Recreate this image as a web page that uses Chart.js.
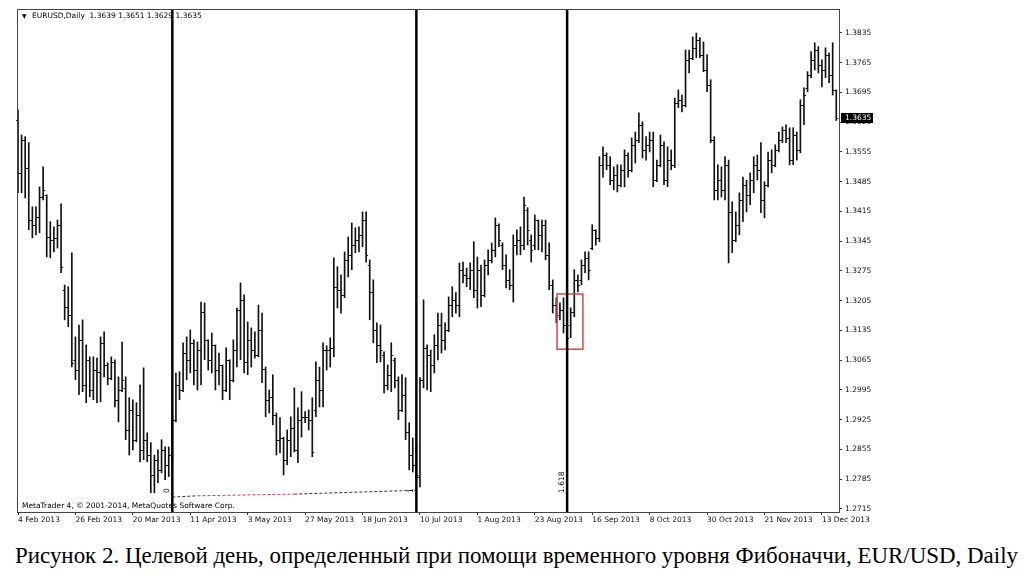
<!DOCTYPE html>
<html>
<head>
<meta charset="utf-8">
<title>EURUSD Daily</title>
<script src="https://cdn.jsdelivr.net/npm/chart.js@4.4.1/dist/chart.umd.min.js"></script>
<style>
  html, body { margin: 0; padding: 0; background: #fff; }
  #wrap { position: relative; width: 1034px; height: 583px; overflow: hidden; }
  #chart { position: absolute; left: 0; top: 0; }
  #caption {
    position: absolute; left: 15px; top: 542px;
    font-family: "Liberation Serif", serif; font-size: 24px; line-height: 27px;
    color: #000; white-space: nowrap; transform-origin: 0 0;
  }
</style>
</head>
<body>
<div id="wrap">
  <canvas id="chart" width="1034" height="530"></canvas>
  <div id="caption">Рисунок 2. Целевой день, определенный при помощи временного уровня Фибоначчи, EUR/USD, Daily</div>
</div>
<script>
// daily EURUSD bars, one entry per trading day from 4 Feb 2013
const opens = [
  1.3631,1.3506,1.3584,1.3518,1.3395,1.3384,1.3402,1.3449,1.3454,1.3355,
  1.3348,1.3353,1.3384,1.3231,1.3191,1.3172,1.3066,1.3042,1.3113,1.3007,
  1.3066,1.2995,1.3042,1.3038,1.3106,1.3054,1.3024,1.3061,1.2972,1.2995,
  1.3000,1.2901,1.2948,1.2878,1.2937,1.2854,1.2878,1.2842,1.2795,1.2831,
  1.2807,1.2854,1.2819,1.2842,1.2925,1.3007,1.2995,1.3082,1.3066,1.3106,
  1.3042,1.3089,1.3179,1.3113,1.3066,1.3101,1.3042,1.3054,1.2995,1.3066,
  1.3019,1.3089,1.3184,1.3207,1.3061,1.3113,1.3089,1.3078,1.3136,1.3045,
  1.2972,1.2979,1.2937,1.2878,1.2882,1.2831,1.2878,1.2906,1.2854,1.2925,
  1.2932,1.2932,1.2925,1.2948,1.3019,1.2995,1.3089,1.3089,1.3094,1.3238,
  1.3231,1.3219,1.3301,1.3313,1.3336,1.3348,1.3360,1.3395,1.3289,1.3226,
  1.3136,1.3101,1.3078,1.3007,1.3031,1.3066,1.3019,1.2948,1.2984,1.2897,
  1.2842,1.2819,1.2791,1.3019,1.3094,1.3078,1.3054,1.3101,1.3148,1.3113,
  1.3136,1.3195,1.3207,1.3195,1.3278,1.3266,1.3259,1.3278,1.3231,1.3278,
  1.3219,1.3289,1.3301,1.3325,1.3384,1.3336,1.3289,1.3254,1.3242,1.3336,
  1.3348,1.3336,1.3419,1.3348,1.3336,1.3395,1.3360,1.3384,1.3313,1.3242,
  1.3195,1.3172,1.3184,1.3148,1.3148,1.3179,1.3254,1.3254,1.3289,1.3306,
  1.3329,1.3372,1.3353,1.3525,1.3548,1.3525,1.3489,1.3501,1.3478,1.3513,
  1.3548,1.3513,1.3572,1.3584,1.3619,1.3560,1.3572,1.3584,1.3489,1.3525,
  1.3572,1.3489,1.3536,1.3525,1.3670,1.3678,1.3666,1.3772,1.3777,1.3800,
  1.3819,1.3784,1.3748,1.3713,1.3584,1.3466,1.3489,1.3466,1.3525,1.3414,
  1.3348,1.3384,1.3442,1.3478,1.3454,1.3489,1.3525,1.3513,1.3442,1.3478,
  1.3536,1.3525,1.3560,1.3584,1.3607,1.3588,1.3536,1.3595,1.3560,1.3666,
  1.3706,1.3737,1.3772,1.3795,1.3760,1.3748,1.3784,1.3737,1.3701
];
const highs = [
  1.3654,1.3595,1.3591,1.3577,1.3426,1.3426,1.3473,1.3520,1.3454,1.3391,
  1.3379,1.3395,1.3433,1.3242,1.3238,1.3318,1.3120,1.3148,1.3160,1.3101,
  1.3073,1.3073,1.3070,1.3120,1.3132,1.3059,1.3073,1.3066,1.3026,1.3108,
  1.3026,1.2977,1.2972,1.2965,1.3007,1.3047,1.2894,1.2871,1.2842,1.2854,
  1.2878,1.2861,1.2861,1.2937,1.3035,1.3038,1.3106,1.3120,1.3136,1.3113,
  1.3108,1.3202,1.3200,1.3113,1.3129,1.3101,1.3082,1.3054,1.3094,1.3066,
  1.3113,1.3188,1.3247,1.3219,1.3155,1.3141,1.3132,1.3195,1.3176,1.3049,
  1.2995,1.3031,1.2941,1.2930,1.2884,1.2901,1.2932,1.3000,1.2953,1.2991,
  1.2944,1.2948,1.2977,1.3061,1.3049,1.3106,1.3099,1.3118,1.3306,1.3285,
  1.3266,1.3320,1.3355,1.3388,1.3377,1.3379,1.3414,1.3414,1.3301,1.3254,
  1.3153,1.3148,1.3085,1.3054,1.3106,1.3070,1.3026,1.3031,1.3024,1.2918,
  1.2882,1.2866,1.3024,1.3207,1.3101,1.3089,1.3125,1.3176,1.3176,1.3153,
  1.3214,1.3238,1.3224,1.3294,1.3296,1.3282,1.3294,1.3344,1.3308,1.3289,
  1.3301,1.3325,1.3341,1.3400,1.3386,1.3341,1.3313,1.3278,1.3360,1.3372,
  1.3379,1.3449,1.3424,1.3360,1.3407,1.3395,1.3395,1.3395,1.3341,1.3254,
  1.3212,1.3200,1.3212,1.3191,1.3188,1.3278,1.3266,1.3301,1.3320,1.3320,
  1.3384,1.3372,1.3544,1.3567,1.3553,1.3544,1.3520,1.3525,1.3525,1.3560,
  1.3553,1.3588,1.3602,1.3647,1.3626,1.3591,1.3602,1.3602,1.3536,1.3595,
  1.3579,1.3567,1.3560,1.3682,1.3701,1.3689,1.3795,1.3795,1.3826,1.3835,
  1.3824,1.3814,1.3784,1.3725,1.3591,1.3525,1.3520,1.3544,1.3536,1.3438,
  1.3414,1.3459,1.3496,1.3489,1.3506,1.3544,1.3548,1.3577,1.3485,1.3555,
  1.3560,1.3572,1.3602,1.3614,1.3619,1.3612,1.3612,1.3602,1.3678,1.3706,
  1.3744,1.3791,1.3812,1.3803,1.3772,1.3800,1.3788,1.3812,1.3701
];
const lows = [
  1.3459,1.3459,1.3447,1.3372,1.3353,1.3360,1.3365,1.3442,1.3308,1.3306,
  1.3320,1.3329,1.3271,1.3160,1.3144,1.3049,1.3019,1.2984,1.2991,1.2965,
  1.2979,1.2972,1.2965,1.2967,1.3026,1.3007,1.3019,1.2955,1.2920,1.2991,
  1.2878,1.2842,1.2854,1.2873,1.2826,1.2831,1.2826,1.2753,1.2753,1.2777,
  1.2800,1.2784,1.2791,1.2826,1.2920,1.2972,1.2991,1.3019,1.3035,1.3007,
  1.2995,1.3007,1.3066,1.3042,1.3035,1.2995,1.3007,1.2972,1.2991,1.2972,
  1.3014,1.3049,1.3066,1.3035,1.3031,1.3049,1.3070,1.3073,1.3012,1.2932,
  1.2941,1.2913,1.2842,1.2847,1.2795,1.2819,1.2838,1.2849,1.2824,1.2884,
  1.2918,1.2901,1.2838,1.2932,1.2955,1.2955,1.3042,1.3049,1.3073,1.3188,
  1.3176,1.3212,1.3261,1.3278,1.3318,1.3320,1.3332,1.3296,1.3160,1.3106,
  1.3059,1.3061,1.2988,1.2995,1.2991,1.3000,1.2925,1.2944,1.2878,1.2807,
  1.2802,1.2788,1.2767,1.3000,1.2995,1.2991,1.3035,1.3066,1.3082,1.3089,
  1.3132,1.3167,1.3176,1.3167,1.3247,1.3238,1.3231,1.3212,1.3188,1.3191,
  1.3214,1.3266,1.3294,1.3308,1.3332,1.3278,1.3235,1.3231,1.3202,1.3313,
  1.3313,1.3325,1.3336,1.3296,1.3325,1.3325,1.3320,1.3301,1.3231,1.3176,
  1.3153,1.3160,1.3129,1.3106,1.3118,1.3167,1.3226,1.3242,1.3271,1.3254,
  1.3325,1.3336,1.3344,1.3496,1.3513,1.3478,1.3466,1.3461,1.3473,1.3473,
  1.3496,1.3508,1.3529,1.3577,1.3541,1.3536,1.3555,1.3473,1.3485,1.3520,
  1.3478,1.3473,1.3513,1.3518,1.3659,1.3649,1.3661,1.3741,1.3772,1.3777,
  1.3777,1.3744,1.3697,1.3577,1.3442,1.3442,1.3449,1.3442,1.3294,1.3318,
  1.3344,1.3360,1.3391,1.3414,1.3431,1.3459,1.3489,1.3412,1.3400,1.3473,
  1.3506,1.3520,1.3555,1.3577,1.3577,1.3525,1.3525,1.3536,1.3553,1.3619,
  1.3697,1.3730,1.3748,1.3741,1.3708,1.3730,1.3718,1.3689,1.3629
];
const closes = [
  1.3506,1.3584,1.3518,1.3395,1.3384,1.3402,1.3449,1.3466,1.3355,1.3348,
  1.3353,1.3384,1.3285,1.3191,1.3172,1.3059,1.3042,1.3113,1.3007,1.3066,
  1.2995,1.3042,1.3038,1.3106,1.3054,1.3024,1.3061,1.2972,1.2995,1.3019,
  1.2901,1.2948,1.2878,1.2937,1.2854,1.2878,1.2842,1.2795,1.2831,1.2807,
  1.2854,1.2819,1.2842,1.2925,1.3007,1.2995,1.3082,1.3066,1.3106,1.3042,
  1.3089,1.3179,1.3113,1.3066,1.3101,1.3042,1.3054,1.2995,1.3066,1.3019,
  1.3089,1.3184,1.3207,1.3061,1.3113,1.3089,1.3078,1.3136,1.3045,1.2972,
  1.2979,1.2937,1.2878,1.2882,1.2831,1.2878,1.2906,1.2854,1.2925,1.2932,
  1.2932,1.2925,1.2849,1.3019,1.2995,1.3089,1.3089,1.3094,1.3238,1.3231,
  1.3219,1.3301,1.3313,1.3336,1.3348,1.3360,1.3395,1.3313,1.3226,1.3136,
  1.3101,1.3089,1.3007,1.3031,1.3078,1.3019,1.2948,1.2984,1.2897,1.2842,
  1.2819,1.2795,1.3019,1.3094,1.3078,1.3054,1.3101,1.3148,1.3113,1.3136,
  1.3195,1.3207,1.3195,1.3278,1.3266,1.3259,1.3278,1.3231,1.3278,1.3219,
  1.3289,1.3301,1.3325,1.3384,1.3348,1.3289,1.3254,1.3242,1.3336,1.3348,
  1.3336,1.3430,1.3372,1.3325,1.3395,1.3360,1.3384,1.3313,1.3242,1.3195,
  1.3172,1.3184,1.3148,1.3118,1.3179,1.3254,1.3242,1.3289,1.3306,1.3278,
  1.3372,1.3353,1.3525,1.3548,1.3525,1.3489,1.3501,1.3478,1.3513,1.3548,
  1.3513,1.3572,1.3584,1.3619,1.3560,1.3572,1.3584,1.3489,1.3525,1.3572,
  1.3489,1.3536,1.3525,1.3670,1.3678,1.3666,1.3772,1.3777,1.3800,1.3819,
  1.3784,1.3748,1.3713,1.3584,1.3466,1.3489,1.3466,1.3525,1.3414,1.3348,
  1.3384,1.3442,1.3478,1.3454,1.3489,1.3525,1.3513,1.3442,1.3478,1.3536,
  1.3525,1.3560,1.3584,1.3607,1.3588,1.3536,1.3595,1.3560,1.3666,1.3689,
  1.3737,1.3772,1.3795,1.3760,1.3748,1.3784,1.3737,1.3701,1.3635
];

const dateLabels = ['4 Feb 2013', '26 Feb 2013', '20 Mar 2013', '11 Apr 2013', '3 May 2013',
  '27 May 2013', '18 Jun 2013', '10 Jul 2013', '1 Aug 2013', '23 Aug 2013',
  '16 Sep 2013', '8 Oct 2013', '30 Oct 2013', '21 Nov 2013', '13 Dec 2013'];
const dateTickBars = [0, 16, 32, 48, 64, 80, 96, 112, 128, 144, 160, 176, 192, 208, 224];
const priceTicks = [1.2715, 1.2785, 1.2855, 1.2925, 1.2995, 1.3065, 1.3135, 1.3205, 1.3275,
  1.3345, 1.3415, 1.3485, 1.3555, 1.3625, 1.3695, 1.3765, 1.3835];

// Fibonacci time zones and the other objects on the chart
const fibBars = [43, 111, 153];
const fibLabels = ['0', '1', '1.618'];
const trendLine = [{ x: 43, y: 1.2743 }, { x: 50, y: 1.2746 }, { x: 77, y: 1.2750 }, { x: 111, y: 1.2759 }];
const targetBox = { from: 150.2, to: 157.4, high: 1.3221, low: 1.3091 };
const headerText = 'EURUSD,Daily  1.3639 1.3651 1.3629 1.3635';
const lastPrice = 1.3635;

const smallFont = '7.5px "DejaVu Sans"';

const ohlcTicks = {
  id: 'ohlcTicks',
  afterDatasetsDraw(chart) {
    const { ctx, scales: { x, y } } = chart;
    ctx.save();
    ctx.fillStyle = '#111';
    for (let i = 0; i < opens.length; i++) {
      const px = x.getPixelForValue(i);
      ctx.fillRect(px - 2, Math.round(y.getPixelForValue(opens[i])), 2, 1);
      ctx.fillRect(px, Math.round(y.getPixelForValue(closes[i])), 2, 1);
    }
    ctx.restore();
  }
};

const chartObjects = {
  id: 'chartObjects',
  afterDatasetsDraw(chart) {
    const { ctx, chartArea, scales: { x, y } } = chart;
    ctx.save();

    // target day box
    ctx.strokeStyle = '#d04848';
    ctx.lineWidth = 1.5;
    const bx = x.getPixelForValue(targetBox.from);
    const by = y.getPixelForValue(targetBox.high);
    ctx.strokeRect(bx, by, x.getPixelForValue(targetBox.to) - bx, y.getPixelForValue(targetBox.low) - by);

    // time zone lines
    ctx.strokeStyle = '#000';
    ctx.lineWidth = 2.5;
    fibBars.forEach((b, k) => {
      const px = x.getPixelForValue(b);
      ctx.beginPath();
      ctx.moveTo(px, chartArea.top);
      ctx.lineTo(px, chartArea.bottom);
      ctx.stroke();

      ctx.save();
      ctx.translate(px - 3, chartArea.bottom - 19);
      ctx.rotate(-Math.PI / 2);
      ctx.fillStyle = '#000';
      ctx.font = smallFont;
      ctx.textAlign = 'left';
      ctx.textBaseline = 'alphabetic';
      ctx.fillText(fibLabels[k], 0, 0);
      ctx.restore();
    });
    ctx.restore();
  },
  afterDraw(chart) {
    const { ctx, chartArea, scales: { y } } = chart;
    ctx.save();

    // top and left frame lines
    ctx.strokeStyle = '#444';
    ctx.lineWidth = 1;
    ctx.beginPath();
    ctx.moveTo(chartArea.left + 0.5, chartArea.bottom);
    ctx.lineTo(chartArea.left + 0.5, chartArea.top + 0.5);
    ctx.lineTo(chartArea.right, chartArea.top + 0.5);
    ctx.stroke();

    // last price marker
    const py = Math.round(y.getPixelForValue(lastPrice));
    ctx.fillStyle = '#000';
    ctx.fillRect(chartArea.right + 2, py - 5, 32, 10);
    ctx.fillStyle = '#fff';
    ctx.font = smallFont;
    ctx.textBaseline = 'middle';
    ctx.fillText(lastPrice.toFixed(4), chartArea.right + 6, py);

    // header and copyright
    ctx.fillStyle = '#000';
    ctx.font = '6px "DejaVu Sans"';
    ctx.fillText('\u25BC', chartArea.left + 5, chartArea.top + 7);
    ctx.font = smallFont;
    ctx.fillText(headerText, chartArea.left + 15, chartArea.top + 7);
    ctx.fillText('MetaTrader 4, \u00A9 2001-2014, MetaQuotes Software Corp.', chartArea.left + 5, chartArea.bottom - 6);
    ctx.restore();
  }
};

new Chart(document.getElementById('chart'), {
  type: 'bar',
  data: {
    datasets: [
      {
        type: 'bar',
        data: highs.map((h, i) => ({ x: i, y: [lows[i], h] })),
        backgroundColor: '#111',
        borderWidth: 0,
        barThickness: 1,
        grouped: false
      },
      {
        type: 'line',
        data: trendLine,
        borderColor: '#5a2328',
        borderWidth: 1,
        borderDash: [3, 2],
        pointRadius: 0,
        tension: 0,
        fill: false,
        segment: { borderColor: c => (c.p0DataIndex === 1 ? '#d2404e' : '#5a2328') }
      }
    ]
  },
  options: {
    responsive: false,
    animation: false,
    events: [],
    layout: { padding: { left: 17, top: 9, right: 0, bottom: 0 } },
    plugins: { legend: { display: false }, tooltip: { enabled: false } },
    scales: {
      x: {
        type: 'linear',
        min: -0.28,
        max: 228.76,
        offset: false,
        afterBuildTicks: s => { s.ticks = dateTickBars.map(v => ({ value: v })); },
        afterFit: s => { s.height = 18; },
        ticks: {
          autoSkip: false, maxRotation: 0, minRotation: 0, align: 'start', padding: 1,
          color: '#111', font: { family: 'DejaVu Sans', size: 7.5 },
          callback: (v, i) => dateLabels[i]
        },
        grid: { drawOnChartArea: false, tickLength: 3, color: '#333', offset: false },
        border: { display: true, color: '#444' }
      },
      y: {
        position: 'right',
        min: 1.270789,
        max: 1.389145,
        afterBuildTicks: s => { s.ticks = priceTicks.map(v => ({ value: v })); },
        afterFit: s => { s.width = 195; },
        ticks: {
          color: '#111', font: { family: 'DejaVu Sans', size: 7.5 }, padding: 3,
          callback: v => v.toFixed(4)
        },
        grid: { drawOnChartArea: false, tickLength: 3, color: '#333' },
        border: { display: true, color: '#444' }
      }
    }
  },
  plugins: [ohlcTicks, chartObjects]
});

// stretch the caption to the width it has in the figure
const caption = document.getElementById('caption');
const capWidth = caption.getBoundingClientRect().width;
caption.style.transform = 'scaleX(' + (1003 / capWidth) + ')';
</script>
</body>
</html>
